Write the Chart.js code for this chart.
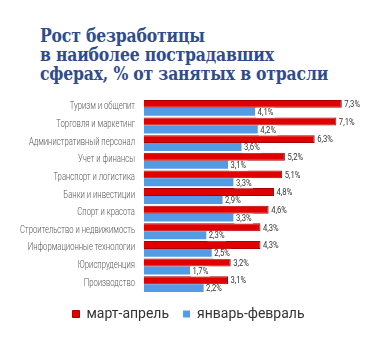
<!DOCTYPE html>
<html>
<head>
<meta charset="utf-8">
<script src="https://cdn.jsdelivr.net/npm/chart.js@4.4.0/dist/chart.umd.min.js"></script>
<style>
  body { margin: 0; background: #fff; width: 377px; height: 337px; overflow: hidden; }
  #title {
    position: absolute; left: 40px; top: 26px;
    font: bold 19px "DejaVu Serif Condensed", "DejaVu Serif", serif; line-height: 19px;
    font-stretch: condensed;
    color: #2f4c8c; letter-spacing: -0.2px; white-space: nowrap;
    transform: scaleX(0.915); transform-origin: left top;
  }
  #wrap { position: absolute; left: 0; top: 92px; width: 377px; height: 239px; }
</style>
</head>
<body>
<div id="title">Рост безработицы<br>в наиболее пострадавших<br>сферах, % от занятых в отрасли</div>
<div id="wrap"><canvas id="chart"></canvas></div>
<script>
const categories = [
  'Туризм и общепит',
  'Торговля и маркетинг',
  'Административный персонал',
  'Учет и финансы',
  'Транспорт и логистика',
  'Банки и инвестиции',
  'Спорт и красота',
  'Строительство и недвижимость',
  'Информационные технологии',
  'Юриспруденция',
  'Производство'
];
const marchApril = [7.3, 7.1, 6.3, 5.2, 5.1, 4.8, 4.6, 4.3, 4.3, 3.2, 3.1];
const janFeb = [4.1, 4.2, 3.6, 3.1, 3.3, 2.9, 3.3, 2.3, 2.5, 1.7, 2.2];

// value labels next to each bar
const barLabels = {
  id: 'barLabels',
  afterDatasetsDraw(chart) {
    const ctx = chart.ctx;
    ctx.save();
    ctx.font = '9px Roboto, sans-serif';
    ctx.textBaseline = 'middle';
    chart.data.datasets.forEach((ds, i) => {
      chart.getDatasetMeta(i).data.forEach((bar, j) => {
        const txt = ds.data[j].toFixed(1).replace('.', ',') + '%';
        const w = ctx.measureText(txt).width * 0.85;
        const x = bar.x + 1;
        const y = bar.y + 1;
        ctx.fillStyle = '#fff';
        ctx.fillRect(x, y - 5, w + 3, 10);
        ctx.fillStyle = '#333';
        ctx.save();
        ctx.translate(x + 1.5, y);
        ctx.scale(0.85, 1);
        ctx.fillText(txt, 0, 0);
        ctx.restore();
      });
    });
    ctx.restore();
  }
};

// narrow category labels on the left
const catLabels = {
  id: 'catLabels',
  afterDraw(chart) {
    const ctx = chart.ctx;
    const yScale = chart.scales.y;
    ctx.save();
    ctx.font = '300 10px Roboto, sans-serif';
    ctx.fillStyle = '#555';
    ctx.textAlign = 'right';
    ctx.textBaseline = 'middle';
    chart.data.labels.forEach((lab, i) => {
      ctx.save();
      ctx.translate(135, yScale.getPixelForValue(i) - 1);
      ctx.scale(0.77, 1);
      ctx.fillText(lab, 0, 0);
      ctx.restore();
    });
    ctx.restore();
  }
};

new Chart(document.getElementById('chart'), {
  type: 'bar',
  data: {
    labels: categories,
    datasets: [{
      label: 'март-апрель',
      data: marchApril,
      backgroundColor: '#e00000',
      borderColor: '#a80000',
      borderWidth: 1,
      categoryPercentage: 0.9,
      barPercentage: 1
    }, {
      label: 'январь-февраль',
      data: janFeb,
      backgroundColor: '#529be6',
      borderWidth: 0,
      categoryPercentage: 0.9,
      barPercentage: 1
    }]
  },
  options: {
    indexAxis: 'y',
    responsive: true,
    maintainAspectRatio: false,
    animation: false,
    layout: { padding: { top: 7, right: 0, bottom: 0 } },
    scales: {
      x: { display: false, min: 0, max: 8.6 },
      y: {
        grid: { display: false },
        border: { display: false },
        ticks: { display: false },
        afterFit(scale) { scale.width = 144; }
      }
    },
    plugins: {
      legend: {
        position: 'bottom',
        labels: {
          boxWidth: 7,
          boxHeight: 7,
          padding: 14,
          color: '#333',
          font: { family: 'Roboto', size: 14 }
        }
      },
      tooltip: { enabled: false }
    }
  },
  plugins: [barLabels, catLabels]
});
</script>
</body>
</html>
